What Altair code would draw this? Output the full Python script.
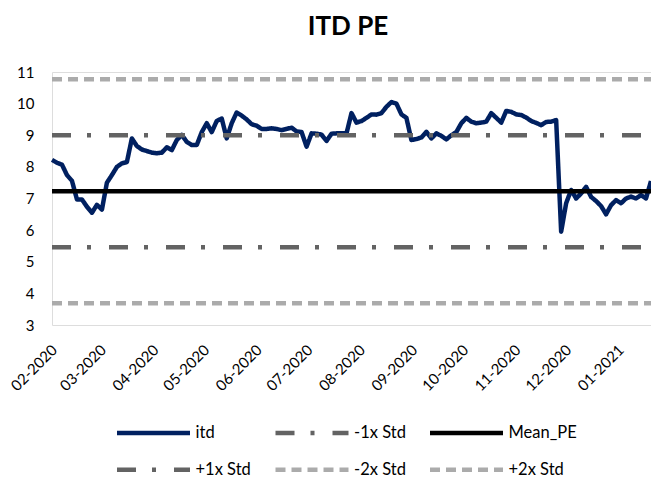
import altair as alt
import pandas as pd

# ---- data ----
dates = pd.date_range("2020-01-29", "2021-01-17", periods=121)

itd = [
    8.22, 8.13, 8.07, 7.74, 7.56, 6.97, 6.97, 6.74, 6.55, 6.80,
    6.65, 7.50, 7.74, 8.00, 8.11, 8.15, 8.90, 8.66, 8.55, 8.50,
    8.45, 8.43, 8.45, 8.62, 8.53, 8.85, 9.01, 8.79, 8.69, 8.69,
    9.10, 9.38, 9.10, 9.45, 9.53, 8.90, 9.38, 9.72, 9.62, 9.50,
    9.35, 9.30, 9.20, 9.20, 9.22, 9.20, 9.16, 9.20, 9.24, 9.12,
    9.10, 8.64, 9.06, 9.05, 9.02, 8.82, 9.05, 9.06, 9.06, 9.06,
    9.70, 9.40, 9.45, 9.55, 9.66, 9.65, 9.70, 9.90, 10.05, 10.00,
    9.66, 9.55, 8.85, 8.88, 8.93, 9.11, 8.90, 9.06, 8.98, 8.87,
    9.00, 9.10, 9.38, 9.55, 9.43, 9.38, 9.40, 9.43, 9.70, 9.55,
    9.40, 9.77, 9.74, 9.66, 9.64, 9.56, 9.45, 9.39, 9.32, 9.42,
    9.43, 9.48, 5.95, 6.85, 7.27, 7.00, 7.16, 7.37, 7.05, 6.92,
    6.76, 6.50, 6.79, 6.95, 6.85, 7.00, 7.06, 7.00, 7.11, 7.00, 7.55,
]

series_names = ["itd", "-1x Std", "Mean_PE", "+1x Std", "-2x Std", "+2x Std"]
level_names = ["-1x Std", "Mean_PE", "+1x Std", "-2x Std", "+2x Std"]
level_values = [5.46, 7.23, 9.00, 3.69, 10.77]
y_ticks = [3, 4, 5, 6, 7, 8, 9, 10, 11]

series_colors = ["#002060", "#636363", "#000000", "#636363", "#ABABAB", "#ABABAB"]
series_dashes = [[1, 0], [19, 16, 4, 18], [1, 0], [19, 16, 4, 18], [10, 6], [10, 6]]

# ---- build long table ----
rows = []
for d, v in zip(dates, itd):
    rows.append({"date": d, "series": "itd", "value": v})
for name, lv in zip(level_names, level_values):
    rows.append({"date": dates[0], "series": name, "value": lv})
    rows.append({"date": dates[-1], "series": name, "value": lv})
df = pd.DataFrame(rows)

FONT = "Lato"

legend = alt.Legend(
    orient="none", legendX=62.5, legendY=351, columns=3, direction="horizontal",
    title=None, symbolType="stroke", symbolSize=5329, symbolStrokeWidth=4.5,
    clipHeight=20, rowPadding=16.7, columnPadding=21.5, labelOffset=3,
    labelFont=FONT, labelFontSize=16.5, labelColor="#000000", padding=0,
    symbolLimit=0,
)

chart = alt.Chart(df).mark_line(strokeWidth=4.5, strokeJoin="round").encode(
    x=alt.X(
        "date:T",
        scale=alt.Scale(nice=False),
        axis=alt.Axis(
            format="%m-%Y", tickCount={"interval": "month", "step": 1},
            labelAngle=-45, labelAlign="right", labelBaseline="middle",
            labelPadding=22, labelOffset=-3, domain=False, ticks=False, grid=False,
            labelFont=FONT, labelFontSize=15, labelColor="#000000",
            labelOverlap=False, labelFlush=False, labelBound=False, title=None,
        ),
    ),
    y=alt.Y(
        "value:Q",
        scale=alt.Scale(domain=[3, 11], nice=False, zero=False),
        axis=alt.Axis(
            values=y_ticks, domain=False, ticks=False, grid=False,
            labelFont=FONT, labelFontSize=15, labelColor="#000000",
            labelPadding=18, title=None,
        ),
    ),
    color=alt.Color(
        "series:N",
        scale=alt.Scale(domain=series_names, range=series_colors),
        legend=legend,
    ),
    strokeDash=alt.StrokeDash(
        "series:N",
        scale=alt.Scale(domain=series_names, range=series_dashes),
        legend=legend,
    ),
    detail="series:N",
).properties(
    width=599,
    height=253,
    title=alt.Title(
        "ITD PE", font=FONT, fontSize=26, fontWeight="bold", color="#000000",
        anchor="middle", frame="group", baseline="alphabetic", offset=28,
        dx=-3.5, dy=24,
    ),
    autosize=alt.AutoSizeParams(type="none"),
    padding={"left": 44, "top": 64, "right": 0, "bottom": 160},
).configure_view(stroke=None).configure(background="white")

chart.save("out.html", embed_options={"renderer": "svg", "actions": False})
